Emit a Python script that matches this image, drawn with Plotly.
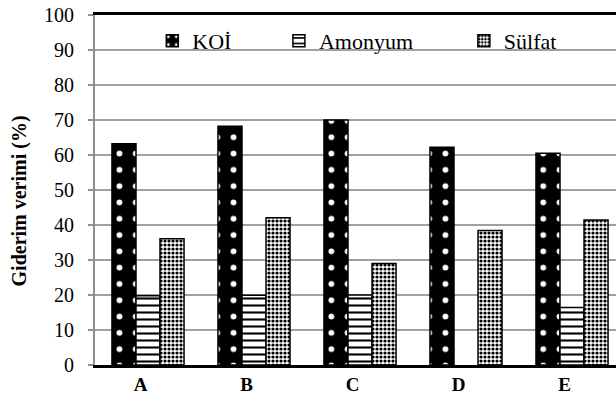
import plotly.graph_objects as go

categories = ["A", "B", "C", "D", "E"]
koi = [63.2, 68.2, 70.0, 62.2, 60.5]
amonyum = [19.8, 19.9, 20.0, None, 16.4]
sulfat = [36.1, 42.1, 29.0, 38.4, 41.4]
series_names = ["KOİ", "Amonyum", "Sülfat"]
y_ticks = list(range(0, 101, 10))
y_title = "Giderim verimi (%)"

FONT = "Liberation Serif, Times New Roman, Times, serif"
idx = list(range(len(categories)))

fig = go.Figure()
fig.add_bar(x=idx, y=koi, name=series_names[0], legend="legend",
            marker=dict(color="black", line=dict(color="black", width=1.5),
                        pattern=dict(shape=".", fillmode="replace", bgcolor="black",
                                     fgcolor="white", size=16.3, solidity=0.1)))
fig.add_bar(x=idx, y=amonyum, name=series_names[1], legend="legend2",
            marker=dict(color="white", line=dict(color="black", width=1.5),
                        pattern=dict(shape="-", fillmode="replace", bgcolor="white",
                                     fgcolor="black", size=7, solidity=0.3)))
fig.add_bar(x=idx, y=sulfat, name=series_names[2], legend="legend3",
            marker=dict(color="white", line=dict(color="black", width=1.5),
                        pattern=dict(shape=".", fillmode="replace", bgcolor="white",
                                     fgcolor="black", size=4, solidity=0.5)))

leg_common = dict(orientation="h", yanchor="middle", y=0.926, xanchor="left", visible=True,
                  bgcolor="rgba(0,0,0,0)", font=dict(family=FONT, size=22, color="black"))
fig.update_layout(
    width=616, height=403,
    margin=dict(l=95, r=0, t=15, b=38),
    paper_bgcolor="white", plot_bgcolor="white",
    barmode="group", bargap=0.32, bargroupgap=0,
    showlegend=True,
    font=dict(family=FONT, color="black"),
    legend=dict(leg_common, x=0.110),
    legend2=dict(leg_common, x=0.353),
    legend3=dict(leg_common, x=0.708),
    xaxis=dict(range=[-0.5, 4.415], tickmode="array",
               tickvals=[i - 0.07 for i in idx], ticktext=categories,
               tickfont=dict(family=FONT, size=19, color="black", weight="bold"),
               showline=True, linecolor="black", linewidth=3, mirror=True,
               showgrid=False, ticks="", zeroline=False),
    yaxis=dict(range=[0, 100], tickvals=y_ticks, showgrid=True, gridcolor="#a0a0a0",
               gridwidth=1.5, showline=True, linecolor="#909090", linewidth=2,
               ticks="outside", ticklen=5, tickcolor="#909090", tickwidth=1.5,
               ticklabelstandoff=10, zeroline=False,
               tickfont=dict(family=FONT, size=20, color="black")),
    annotations=[dict(text="<b>" + y_title + "</b>", textangle=-90, showarrow=False,
                      xref="paper", yref="paper", x=-0.144, y=0.47,
                      xanchor="center", yanchor="middle",
                      font=dict(family=FONT, size=20, color="black"))],
)

fig.write_html("out.html")
